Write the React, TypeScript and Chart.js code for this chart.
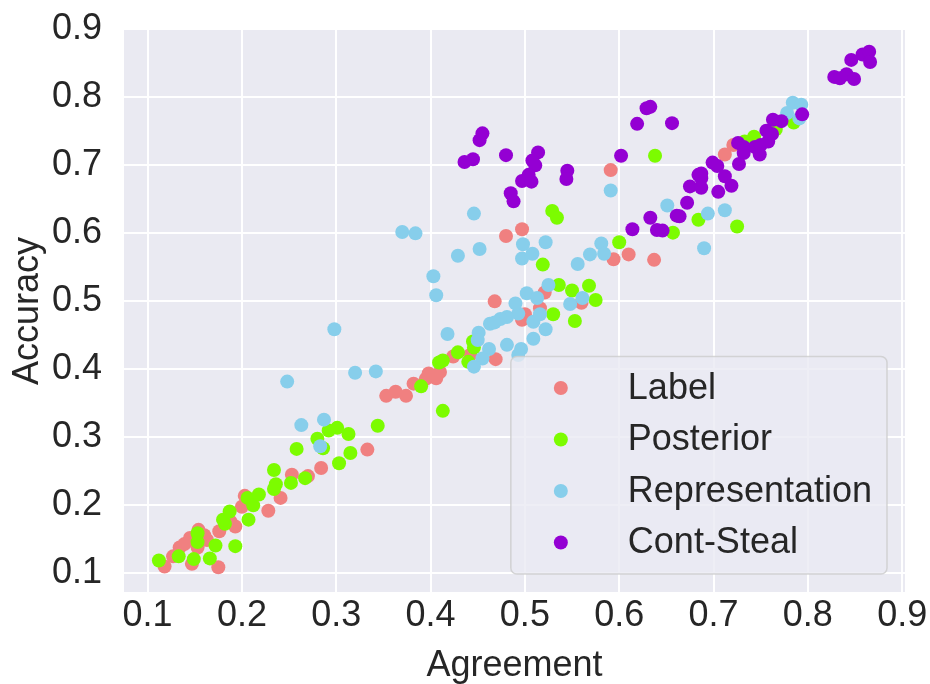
import React, { useEffect, useRef } from "react";
import { Chart, registerables } from "chart.js";

Chart.register(...registerables);

// Axis ticks shared by both axes
const TICK_VALUES = [0.1, 0.2, 0.3, 0.4, 0.5, 0.6, 0.7, 0.8, 0.9];

const SERIES_NAMES = ["Label", "Posterior", "Representation", "Cont-Steal"];
const SERIES_COLORS = ["#F08080", "#7CFC00", "#87CEEB", "#9400D3"];

// [agreement, accuracy] pairs per attack type
const labelPoints = [
  [0.118, 0.109], [0.127, 0.124], [0.134, 0.137], [0.139, 0.142], [0.145, 0.151],
  [0.153, 0.137], [0.160, 0.155], [0.163, 0.148], [0.154, 0.163], [0.176, 0.161],
  [0.147, 0.113], [0.175, 0.108], [0.188, 0.175], [0.193, 0.168], [0.200, 0.197],
  [0.203, 0.213], [0.228, 0.191], [0.241, 0.210], [0.253, 0.244], [0.270, 0.242],
  [0.284, 0.254], [0.333, 0.281], [0.353, 0.360], [0.363, 0.366], [0.374, 0.360],
  [0.382, 0.378], [0.395, 0.385], [0.398, 0.393], [0.406, 0.386], [0.410, 0.395],
  [0.424, 0.418], [0.442, 0.420], [0.469, 0.414], [0.468, 0.499], [0.497, 0.472],
  [0.500, 0.480], [0.516, 0.489], [0.521, 0.512], [0.560, 0.497], [0.497, 0.605],
  [0.480, 0.595], [0.591, 0.692], [0.594, 0.561], [0.610, 0.568], [0.637, 0.560],
  [0.712, 0.715], [0.721, 0.729],
];

const posteriorPoints = [
  [0.112, 0.118], [0.133, 0.124], [0.149, 0.120], [0.166, 0.121], [0.153, 0.158],
  [0.153, 0.145], [0.172, 0.140], [0.193, 0.139], [0.182, 0.172], [0.180, 0.178],
  [0.187, 0.190], [0.207, 0.178], [0.206, 0.210], [0.212, 0.199], [0.218, 0.215],
  [0.234, 0.251], [0.236, 0.230], [0.234, 0.223], [0.252, 0.232], [0.267, 0.239],
  [0.258, 0.282], [0.280, 0.297], [0.286, 0.283], [0.292, 0.309], [0.301, 0.313],
  [0.313, 0.304], [0.303, 0.261], [0.315, 0.276], [0.344, 0.316], [0.390, 0.374],
  [0.413, 0.338], [0.409, 0.409], [0.413, 0.412], [0.429, 0.424], [0.440, 0.410],
  [0.446, 0.431], [0.445, 0.440], [0.519, 0.553], [0.529, 0.632], [0.534, 0.622],
  [0.536, 0.523], [0.550, 0.515], [0.568, 0.522], [0.575, 0.501], [0.530, 0.480],
  [0.553, 0.470], [0.600, 0.586], [0.638, 0.713], [0.657, 0.600], [0.684, 0.619],
  [0.725, 0.609], [0.785, 0.762], [0.766, 0.752], [0.743, 0.741], [0.733, 0.734],
];

const representationPoints = [
  [0.248, 0.381], [0.263, 0.317], [0.287, 0.325], [0.283, 0.286], [0.298, 0.458],
  [0.320, 0.394], [0.342, 0.396], [0.370, 0.601], [0.384, 0.599], [0.403, 0.536],
  [0.406, 0.508], [0.418, 0.451], [0.429, 0.566], [0.446, 0.628], [0.452, 0.576],
  [0.451, 0.453], [0.450, 0.442], [0.462, 0.429], [0.455, 0.415], [0.446, 0.403],
  [0.481, 0.435], [0.496, 0.429], [0.493, 0.420], [0.509, 0.444], [0.522, 0.458],
  [0.509, 0.469], [0.516, 0.480], [0.493, 0.481], [0.481, 0.476], [0.474, 0.473],
  [0.463, 0.466], [0.468, 0.468], [0.490, 0.496], [0.502, 0.511], [0.513, 0.504],
  [0.525, 0.523], [0.548, 0.495], [0.561, 0.504], [0.556, 0.554], [0.497, 0.562],
  [0.498, 0.583], [0.508, 0.569], [0.522, 0.586], [0.569, 0.568], [0.581, 0.584],
  [0.584, 0.569], [0.591, 0.662], [0.651, 0.640], [0.694, 0.628], [0.712, 0.633],
  [0.690, 0.577], [0.784, 0.791], [0.793, 0.788], [0.778, 0.776], [0.791, 0.768],
];

const contStealPoints = [
  [0.455, 0.746], [0.452, 0.736], [0.445, 0.708], [0.436, 0.704], [0.480, 0.714],
  [0.514, 0.718], [0.508, 0.706], [0.511, 0.699], [0.504, 0.685], [0.497, 0.676],
  [0.507, 0.675], [0.485, 0.658], [0.488, 0.646], [0.545, 0.691], [0.544, 0.679],
  [0.602, 0.713], [0.629, 0.783], [0.633, 0.785], [0.619, 0.760], [0.656, 0.761],
  [0.614, 0.605], [0.633, 0.622], [0.640, 0.604], [0.646, 0.603], [0.661, 0.625],
  [0.664, 0.624], [0.672, 0.644], [0.675, 0.668], [0.684, 0.685], [0.687, 0.687],
  [0.687, 0.680], [0.687, 0.666], [0.699, 0.703], [0.704, 0.698], [0.712, 0.683],
  [0.719, 0.669], [0.705, 0.660], [0.726, 0.732], [0.732, 0.726], [0.732, 0.717],
  [0.727, 0.701], [0.744, 0.726], [0.750, 0.729], [0.749, 0.715], [0.758, 0.734],
  [0.762, 0.745], [0.756, 0.750], [0.763, 0.766], [0.772, 0.764], [0.794, 0.774],
  [0.828, 0.829], [0.834, 0.827], [0.841, 0.833], [0.849, 0.826], [0.846, 0.854],
  [0.858, 0.862], [0.865, 0.866], [0.866, 0.851],
];

const SERIES_POINTS = [labelPoints, posteriorPoints, representationPoints, contStealPoints];

const FONT_FAMILY = "'Liberation Sans', Arial, Helvetica, sans-serif";
const FONT_SIZE = 36;
const TEXT_COLOR = "#262626";
const PANEL_COLOR = "#EAEAF2";

// Fills the plotting area with the seaborn-like panel colour
const panelBackground = {
  id: "panelBackground",
  beforeDraw(chart: any) {
    const { ctx, chartArea } = chart;
    ctx.save();
    ctx.fillStyle = PANEL_COLOR;
    ctx.fillRect(chartArea.left, chartArea.top, chartArea.right - chartArea.left, chartArea.bottom - chartArea.top);
    ctx.restore();
  },
};

// Framed legend in the lower-right corner of the plotting area
const cornerLegend = {
  id: "cornerLegend",
  afterDraw(chart: any) {
    const { ctx, chartArea } = chart;
    const rowGap = 51.5;
    const padEdge = 31.5;
    const markerX = 50;
    const textX = 117;
    ctx.save();
    ctx.font = `${FONT_SIZE}px ${FONT_FAMILY}`;
    const datasets = chart.data.datasets;
    let maxW = 0;
    datasets.forEach((d: any) => {
      maxW = Math.max(maxW, ctx.measureText(d.label).width);
    });
    const w = textX + maxW + 15;
    const h = padEdge * 2 + rowGap * (datasets.length - 1);
    const right = chartArea.right - 18;
    const bottom = chartArea.bottom - 18;
    const left = right - w;
    const top = bottom - h;
    const r = 6;
    ctx.beginPath();
    ctx.moveTo(left + r, top);
    ctx.lineTo(right - r, top);
    ctx.arcTo(right, top, right, top + r, r);
    ctx.lineTo(right, bottom - r);
    ctx.arcTo(right, bottom, right - r, bottom, r);
    ctx.lineTo(left + r, bottom);
    ctx.arcTo(left, bottom, left, bottom - r, r);
    ctx.lineTo(left, top + r);
    ctx.arcTo(left, top, left + r, top, r);
    ctx.closePath();
    ctx.fillStyle = "rgba(234,234,242,0.8)";
    ctx.fill();
    ctx.lineWidth = 1.5;
    ctx.strokeStyle = "rgba(204,204,204,0.8)";
    ctx.stroke();

    datasets.forEach((d: any, i: number) => {
      const cy = top + padEdge + i * rowGap;
      ctx.beginPath();
      ctx.arc(left + markerX, cy, 7, 0, Math.PI * 2);
      ctx.fillStyle = d.backgroundColor;
      ctx.fill();
      ctx.fillStyle = TEXT_COLOR;
      ctx.textAlign = "left";
      ctx.textBaseline = "middle";
      ctx.fillText(d.label, left + textX, cy + 1);
    });
    ctx.restore();
  },
};

const textFont = { family: FONT_FAMILY, size: FONT_SIZE };

export default function App() {
  const canvasRef = useRef<HTMLCanvasElement | null>(null);

  useEffect(() => {
    const canvas = canvasRef.current;
    if (!canvas) return;
    const datasets = SERIES_NAMES.map((name, i) => ({
      label: name,
      data: SERIES_POINTS[i].map(([x, y]) => ({ x, y })),
      backgroundColor: SERIES_COLORS[i],
      borderWidth: 0,
      pointRadius: 7,
      pointHoverRadius: 7,
      order: SERIES_NAMES.length - i,
    }));

    const chart = new Chart(canvas, {
      type: "scatter",
      data: { datasets },
      plugins: [panelBackground, cornerLegend],
      options: {
        responsive: false,
        animation: false,
        devicePixelRatio: 1,
        layout: { padding: { top: 30, right: 25, left: 0, bottom: 0 } },
        plugins: { legend: { display: false }, tooltip: { enabled: false } },
        scales: {
          x: {
            type: "linear",
            min: 0.075,
            max: 0.903,
            afterBuildTicks: (scale: any) => {
              scale.ticks = TICK_VALUES.map((v) => ({ value: v }));
            },
            afterFit: (scale: any) => {
              scale.height = 92;
              scale.paddingLeft = 0;
              scale.paddingRight = 0;
            },
            grid: { color: "#FFFFFF", lineWidth: 2, drawTicks: false },
            border: { display: false },
            ticks: {
              font: textFont,
              color: TEXT_COLOR,
              padding: 2,
              maxRotation: 0,
              callback: (v: any) => Number(v).toFixed(1),
            },
            title: {
              display: true,
              text: "Agreement",
              font: textFont,
              color: TEXT_COLOR,
              padding: { top: 0, bottom: -4 },
            },
          },
          y: {
            type: "linear",
            min: 0.0716,
            max: 0.898,
            afterBuildTicks: (scale: any) => {
              scale.ticks = TICK_VALUES.map((v) => ({ value: v }));
            },
            afterFit: (scale: any) => {
              scale.width = 124;
              scale.paddingTop = 0;
              scale.paddingBottom = 0;
            },
            grid: { color: "#FFFFFF", lineWidth: 2, drawTicks: false },
            border: { display: false },
            ticks: {
              font: textFont,
              color: TEXT_COLOR,
              padding: 22,
              callback: (v: any) => Number(v).toFixed(1),
            },
            title: {
              display: true,
              text: "Accuracy",
              font: textFont,
              color: TEXT_COLOR,
              padding: { top: 6, bottom: 0 },
            },
          },
        },
      },
    } as any);

    return () => chart.destroy();
  }, []);

  return (
    <div style={{ position: "fixed", left: 0, top: 0, width: 930, height: 684, background: "#FFFFFF" }}>
      <canvas ref={canvasRef} width={930} height={684} style={{ display: "block" }} />
    </div>
  );
}
